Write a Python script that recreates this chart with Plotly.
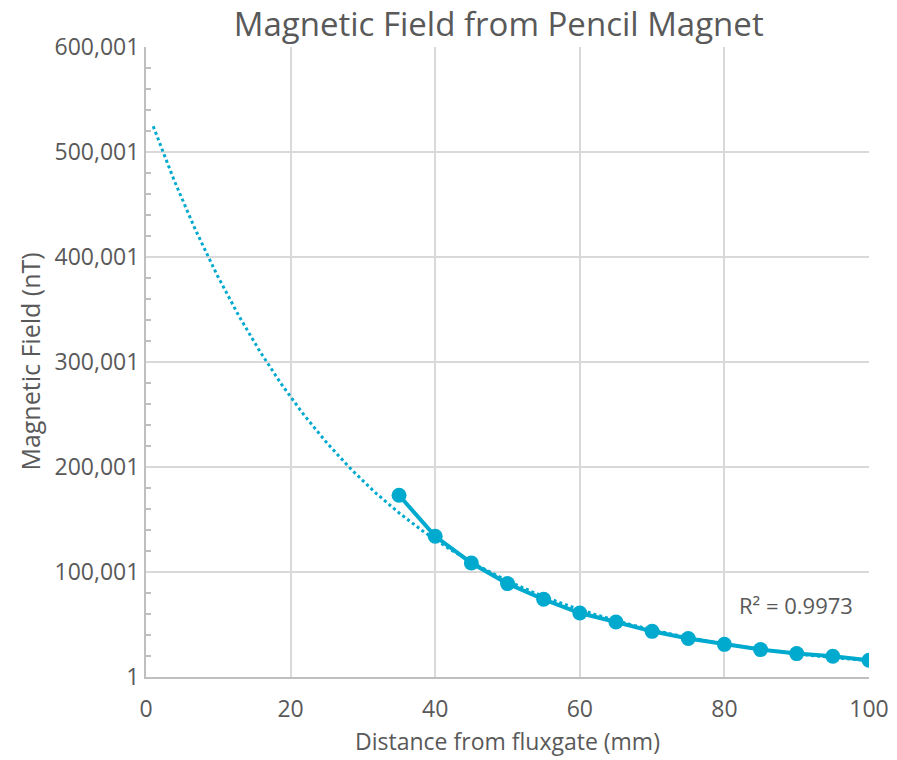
import numpy as np
import plotly.graph_objects as go

# Measured field vs. distance from the fluxgate sensor
distance_mm = [35, 40, 45, 50, 55, 60, 65, 70, 75, 80, 85, 90, 95, 100]
field_nT = [173050, 134000, 108600, 88950, 74000, 60950, 52400,
            43500, 36600, 31100, 26100, 22300, 19700, 15900]

title_text = "Magnetic Field from Pencil Magnet"
x_title = "Distance from fluxgate (mm)"
y_title = "Magnetic Field (nT)"
r2_label = "R² = 0.9973"

# Exponential trendline (least squares on ln y), forecast back to x = 1
slope, intercept = np.polyfit(distance_mm, np.log(field_nT), 1)
trend_x = np.linspace(1, 100, 300)
trend_y = np.exp(intercept + slope * trend_x)

SERIES = "#00A9CE"
TEXT = "#595959"
GRID = "#D9D9D9"
AXIS = "#BFBFBF"
FONT = "Open Sans"

fig = go.Figure()
fig.add_trace(go.Scatter(
    x=trend_x, y=trend_y, mode="lines",
    line=dict(color=SERIES, width=3, dash="dot"),
    hoverinfo="skip", showlegend=False,
))
fig.add_trace(go.Scatter(
    x=distance_mm, y=field_nT, mode="lines+markers",
    line=dict(color=SERIES, width=4),
    marker=dict(color=SERIES, size=15),
    showlegend=False,
))

fig.add_annotation(
    x=89.9, y=68300, xref="x", yref="y", text=r2_label, showarrow=False,
    font=dict(family=FONT, size=22, color=TEXT),
)

# Vertical y-axis title placed just left of the tick labels
fig.add_annotation(
    x=-0.161, y=0.5, xref="paper", yref="paper", text=y_title,
    textangle=-90, showarrow=False, xanchor="center", yanchor="middle",
    font=dict(family=FONT, size=25, color=TEXT),
)

fig.update_layout(
    width=897, height=760,
    margin=dict(l=146, r=28, t=47, b=83),
    paper_bgcolor="white", plot_bgcolor="white",
    font=dict(family=FONT, color=TEXT),
    title=dict(text=title_text, x=0.556, xanchor="center",
               y=0.968, yanchor="middle",
               font=dict(family=FONT, size=33, color=TEXT)),
)

fig.update_xaxes(
    range=[0, 100], tick0=0, dtick=20, automargin=False,
    showgrid=True, gridcolor=GRID, gridwidth=1.5,
    showline=True, linecolor=AXIS, linewidth=2,
    ticks="", ticklabelstandoff=10,
    tickfont=dict(family=FONT, size=23, color=TEXT),
    title=dict(text=x_title, font=dict(family=FONT, size=23, color=TEXT), standoff=11),
    zeroline=False,
)
fig.update_yaxes(
    range=[1, 600001], tick0=1, dtick=100000, tickformat=",d", automargin=False,
    showgrid=True, gridcolor=GRID, gridwidth=1.5,
    showline=True, linecolor=AXIS, linewidth=2,
    ticks="", tickfont=dict(family=FONT, size=23, color=TEXT),
    minor=dict(tick0=1, dtick=20000, ticks="inside", ticklen=5,
               tickcolor=AXIS, tickwidth=1.5, showgrid=False),
    zeroline=False,
)

fig.write_html("out.html")
